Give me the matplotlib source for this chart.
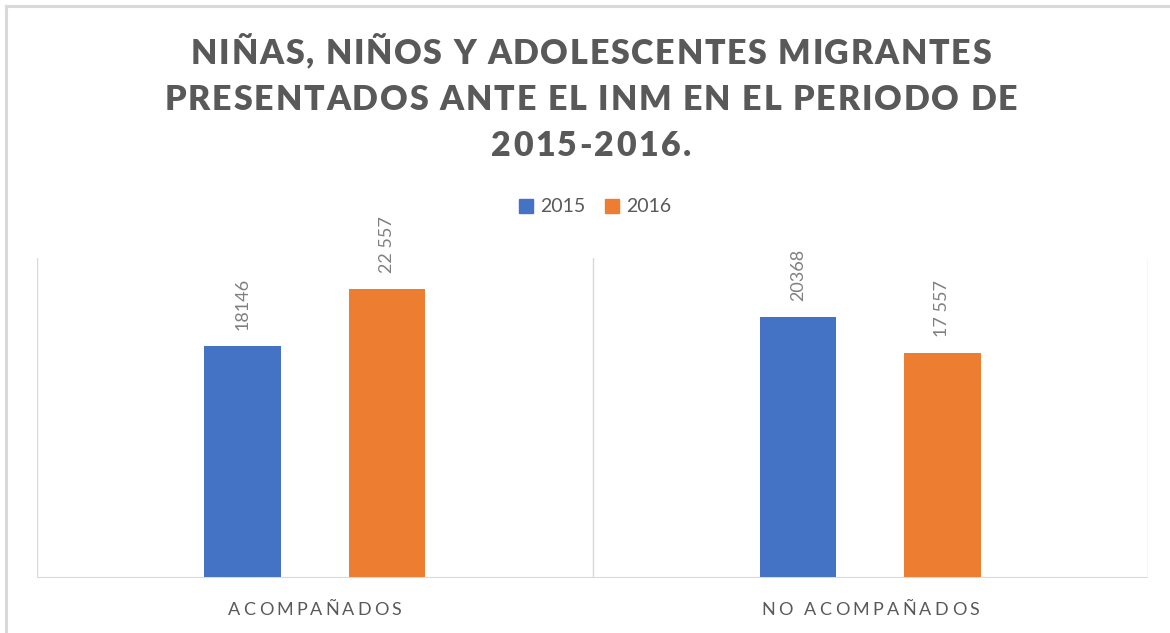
import numpy as np
import matplotlib
matplotlib.use('Agg')
import matplotlib.pyplot as plt
from matplotlib import font_manager
from matplotlib.ft2font import FT2Font
from matplotlib.patches import Patch
from matplotlib.lines import Line2D

# data
categories = ['ACOMPAÑADOS', 'NO ACOMPAÑADOS']
series = ['2015', '2016']
values_2015 = [18146, 20368]
values_2016 = [22557, 17557]
labels_2015 = ['18146', '20368']
labels_2016 = ['22 557', '17 557']
title_lines = ['NIÑAS, NIÑOS Y ADOLESCENTES MIGRANTES',
               'PRESENTADOS ANTE EL INM EN EL PERIODO DE',
               '2015-2016.']

W, H, DPI = 1170, 633, 100
BLUE, ORANGE = '#4472C4', '#ED7D31'
TXT = '#595959'
GRID = '#D9D9D9'
FONT = 'Lato'

fig = plt.figure(figsize=(W / DPI, H / DPI), dpi=DPI)


def spaced_text(xc, ytop, s, width, size, weight='normal', color=TXT):
    """draw letter-spaced text centred at xc, baseline at ytop (pixels from top)"""
    fp = font_manager.FontProperties(family=FONT, weight=weight, size=size)
    font = FT2Font(font_manager.findfont(fp))
    font.set_size(size, DPI)
    adv = [font.load_char(ord(c)).linearHoriAdvance / 65536 for c in s]
    gap = (width - sum(adv)) / (len(s) - 1)
    x = xc - width / 2
    for c, a in zip(s, adv):
        if c != ' ':
            fig.text(x / W, 1 - ytop / H, c, fontproperties=fp, color=color,
                     ha='left', va='baseline')
        x += a + gap


# chart-area border (only left and top are visible in the crop)
fig.add_artist(Line2D([6 / W, 6 / W], [0, 1 - 6 / H], color=GRID, lw=2.2))
fig.add_artist(Line2D([6 / W, 1], [1 - 6 / H, 1 - 6 / H], color=GRID, lw=2.2))

# title
title_w = [800, 853, 200]
title_base = [63.5, 110, 155.5]
for line, w, yb in zip(title_lines, title_w, title_base):
    spaced_text(591, yb, line, w, 24.5, weight='heavy')

ax = fig.add_axes([37 / W, 1 - 578 / H, (1148 - 37) / W, (578 - 258) / H])
x = np.arange(len(categories))
bw = 0.137
off = 0.13
b1 = ax.bar(x - off, values_2015, bw, color=BLUE, zorder=3)
b2 = ax.bar(x + off, values_2016, bw, color=ORANGE, zorder=3)

for bars, labs in [(b1, labels_2015), (b2, labels_2016)]:
    for r, lab in zip(bars, labs):
        ax.annotate(lab, (r.get_x() + r.get_width() / 2, r.get_height()),
                    xytext=(0, 11.5), textcoords='offset points',
                    rotation=90, ha='center', va='bottom',
                    fontsize=13, family=FONT, color='#7F7F7F')

ax.set_xlim(-0.5, 1.5)
ax.set_ylim(0, 25000)
for xv in [-0.5, 0.5, 1.5]:
    ax.axvline(xv, color=GRID, lw=1.0, zorder=1)
ax.axhline(0, color=GRID, lw=2.2, zorder=4)
for s in ax.spines.values():
    s.set_visible(False)
ax.set_xticks([])
ax.set_yticks([])

# category labels, placed under each category centre
cat_w = [173, 218]
for i, (cat, w) in enumerate(zip(categories, cat_w)):
    xc = ax.transData.transform((x[i], 0))[0]
    spaced_text(xc, 615, cat, w, 13)

# legend
handles = [Patch(color=BLUE, label=series[0]), Patch(color=ORANGE, label=series[1])]
fig.legend(handles=handles, loc='center', bbox_to_anchor=(595 / W, 1 - 207 / H),
           ncol=2, frameon=False, handlelength=0.75, handleheight=0.75,
           handletextpad=0.35, columnspacing=1.0,
           prop={'family': FONT, 'size': 14}, labelcolor=TXT)

fig.savefig('out.png', dpi=DPI)
plt.close()
